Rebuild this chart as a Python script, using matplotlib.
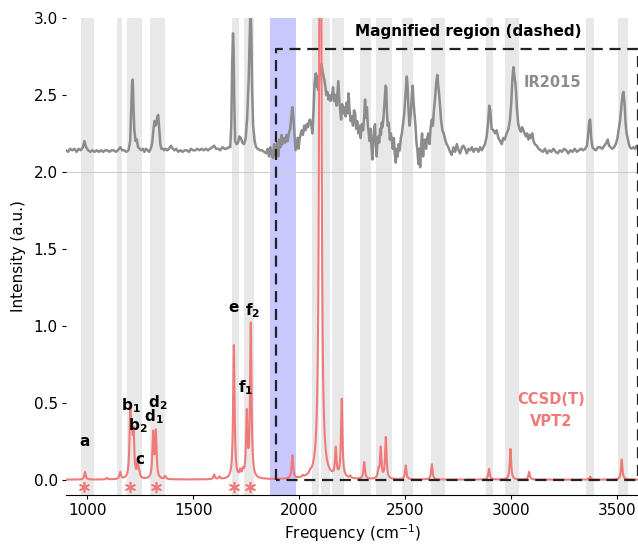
import numpy as np
import matplotlib.pyplot as plt

# experimental spectrum (IR2015), offset upwards
exp_freq = [900, 910, 920, 930, 940, 950, 960, 970, 980, 987, 995, 1005, 1015, 1025, 1035, 1045, 1055, 1065,
            1075, 1085, 1095, 1105, 1115, 1125, 1135, 1145, 1156, 1165, 1175, 1185, 1195, 1203, 1208, 1212,
            1215, 1218, 1222, 1228, 1234, 1240, 1248, 1255, 1263, 1270, 1278, 1285, 1292, 1300, 1307, 1313,
            1318, 1322, 1326, 1331, 1335, 1340, 1345, 1350, 1357, 1363, 1370, 1378, 1386, 1396, 1404, 1412,
            1420, 1430, 1440, 1450, 1460, 1470, 1480, 1490, 1500, 1510, 1520, 1530, 1540, 1550, 1560, 1570,
            1580, 1590, 1599, 1608, 1618, 1628, 1638, 1648, 1658, 1667, 1675, 1680, 1684, 1688, 1691, 1694,
            1698, 1705, 1712, 1718, 1725, 1732, 1740, 1748, 1755, 1762, 1767, 1770, 1774, 1778, 1783, 1790,
            1797, 1805, 1815, 1825, 1835, 1845, 1852, 1858, 1864, 1870, 1876, 1882, 1887, 1892, 1897, 1902,
            1907, 1912, 1917, 1922, 1928, 1934, 1940, 1946, 1952, 1958, 1963, 1968, 1973, 1978, 1983, 1988,
            1993, 1997, 2003, 2008, 2013, 2018, 2024, 2030, 2036, 2042, 2047, 2052, 2058, 2063, 2068, 2073,
            2079, 2084, 2088, 2091, 2096, 2101, 2106, 2110, 2115, 2119, 2124, 2128, 2133, 2138, 2143, 2148,
            2154, 2160, 2165, 2170, 2176, 2181, 2185, 2190, 2194, 2198, 2203, 2208, 2214, 2219, 2224, 2229,
            2233, 2238, 2243, 2249, 2254, 2259, 2264, 2269, 2274, 2280, 2285, 2290, 2296, 2302, 2307, 2311,
            2315, 2320, 2324, 2327, 2332, 2337, 2342, 2346, 2350, 2354, 2358, 2362, 2366, 2370, 2374, 2378,
            2382, 2386, 2390, 2393, 2398, 2403, 2408, 2411, 2414, 2418, 2423, 2428, 2433, 2437, 2442, 2447,
            2451, 2456, 2460, 2465, 2470, 2475, 2480, 2485, 2490, 2496, 2502, 2508, 2512, 2516, 2521, 2527,
            2532, 2536, 2540, 2544, 2549, 2553, 2558, 2563, 2567, 2571, 2576, 2580, 2585, 2589, 2594, 2599,
            2604, 2610, 2615, 2620, 2626, 2631, 2636, 2642, 2647, 2652, 2657, 2661, 2665, 2670, 2676, 2682,
            2689, 2696, 2704, 2712, 2720, 2728, 2736, 2744, 2752, 2760, 2768, 2775, 2783, 2791, 2799, 2807,
            2815, 2823, 2831, 2838, 2846, 2854, 2862, 2869, 2877, 2885, 2892, 2897, 2902, 2908, 2917, 2925,
            2932, 2940, 2948, 2956, 2963, 2970, 2979, 2988, 2995, 3001, 3006, 3011, 3016, 3020, 3023, 3028,
            3034, 3040, 3046, 3052, 3058, 3064, 3070, 3076, 3082, 3088, 3094, 3100, 3106, 3112, 3121, 3130,
            3140, 3150, 3160, 3170, 3180, 3190, 3200, 3210, 3220, 3230, 3240, 3250, 3260, 3270, 3280, 3290,
            3300, 3310, 3320, 3330, 3340, 3350, 3358, 3364, 3369, 3373, 3378, 3384, 3390, 3400, 3410, 3420,
            3430, 3440, 3450, 3456, 3462, 3470, 3478, 3486, 3494, 3502, 3508, 3514, 3520, 3526, 3530, 3535,
            3540, 3545, 3553, 3560, 3568, 3577, 3585, 3592, 3600]
exp_int = [2.14, 2.13, 2.15, 2.14, 2.15, 2.13, 2.15, 2.14, 2.16, 2.20, 2.16, 2.14, 2.13, 2.14, 2.13, 2.14, 2.13, 2.14,
           2.13, 2.14, 2.14, 2.13, 2.14, 2.14, 2.13, 2.14, 2.16, 2.14, 2.14, 2.13, 2.14, 2.20, 2.40, 2.58,
           2.60, 2.45, 2.28, 2.20, 2.21, 2.16, 2.15, 2.14, 2.15, 2.13, 2.15, 2.14, 2.13, 2.15, 2.19, 2.28,
           2.33, 2.30, 2.31, 2.36, 2.37, 2.28, 2.18, 2.15, 2.15, 2.14, 2.15, 2.14, 2.15, 2.17, 2.15, 2.14,
           2.15, 2.13, 2.14, 2.13, 2.14, 2.14, 2.13, 2.15, 2.14, 2.14, 2.15, 2.14, 2.15, 2.14, 2.15, 2.14,
           2.15, 2.16, 2.17, 2.15, 2.15, 2.14, 2.16, 2.15, 2.15, 2.16, 2.16, 2.30, 2.70, 2.90, 2.80, 2.45,
           2.20, 2.18, 2.19, 2.23, 2.22, 2.19, 2.18, 2.22, 2.35, 2.60, 2.90, 3.05, 2.95, 2.55, 2.30, 2.20,
           2.16, 2.15, 2.14, 2.14, 2.13, 2.12, 2.15, 2.10, 2.16, 2.12, 2.09, 2.18, 2.10, 2.15, 2.19, 2.10,
           2.21, 2.16, 2.24, 2.18, 2.22, 2.19, 2.24, 2.20, 2.25, 2.28, 2.36, 2.42, 2.35, 2.24, 2.14, 2.18,
           2.22, 2.15, 2.22, 2.25, 2.27, 2.24, 2.30, 2.27, 2.31, 2.29, 2.33, 2.34, 2.30, 2.25, 2.40, 2.58,
           2.64, 2.55, 2.62, 2.53, 2.62, 2.66, 2.70, 2.66, 2.62, 2.60, 2.55, 2.50, 2.52, 2.47, 2.50, 2.46,
           2.48, 2.55, 2.46, 2.50, 2.43, 2.52, 2.59, 2.45, 2.40, 2.34, 2.44, 2.38, 2.42, 2.36, 2.45, 2.38,
           2.51, 2.40, 2.33, 2.36, 2.30, 2.40, 2.38, 2.28, 2.33, 2.25, 2.30, 2.22, 2.31, 2.27, 2.36, 2.47,
           2.35, 2.42, 2.30, 2.27, 2.20, 2.28, 2.15, 2.08, 2.20, 2.28, 2.31, 2.18, 2.10, 2.22, 2.23, 2.19,
           2.28, 2.24, 2.32, 2.29, 2.35, 2.45, 2.56, 2.55, 2.40, 2.30, 2.32, 2.21, 2.25, 2.21, 2.15, 2.22,
           2.12, 2.06, 2.15, 2.10, 2.18, 2.14, 2.22, 2.25, 2.31, 2.38, 2.50, 2.62, 2.55, 2.40, 2.30, 2.38,
           2.50, 2.56, 2.45, 2.38, 2.30, 2.20, 2.14, 2.05, 2.15, 2.03, 2.18, 2.25, 2.10, 2.20, 2.21, 2.15,
           2.22, 2.25, 2.18, 2.28, 2.34, 2.30, 2.40, 2.49, 2.58, 2.63, 2.55, 2.50, 2.42, 2.33, 2.27, 2.25,
           2.21, 2.18, 2.16, 2.13, 2.11, 2.16, 2.13, 2.18, 2.14, 2.12, 2.16, 2.17, 2.15, 2.12, 2.15, 2.14,
           2.16, 2.13, 2.15, 2.15, 2.13, 2.16, 2.14, 2.16, 2.18, 2.23, 2.33, 2.43, 2.40, 2.28, 2.27, 2.25,
           2.27, 2.22, 2.20, 2.18, 2.22, 2.21, 2.25, 2.28, 2.34, 2.45, 2.60, 2.68, 2.62, 2.58, 2.53, 2.40,
           2.31, 2.28, 2.26, 2.29, 2.27, 2.25, 2.23, 2.25, 2.21, 2.24, 2.22, 2.25, 2.20, 2.18, 2.17, 2.15,
           2.14, 2.13, 2.15, 2.12, 2.14, 2.13, 2.15, 2.13, 2.12, 2.14, 2.13, 2.15, 2.14, 2.12, 2.14, 2.13,
           2.15, 2.13, 2.14, 2.15, 2.14, 2.15, 2.17, 2.25, 2.33, 2.34, 2.22, 2.16, 2.15, 2.14, 2.16, 2.16,
           2.15, 2.17, 2.19, 2.21, 2.17, 2.16, 2.15, 2.16, 2.18, 2.22, 2.28, 2.33, 2.42, 2.50, 2.52, 2.45,
           2.32, 2.25, 2.20, 2.16, 2.15, 2.16, 2.15, 2.17, 2.15]

# computed CCSD(T)/VPT2 stick spectrum
calc_freq = [990, 1093, 1156, 1203, 1211, 1219, 1238, 1246, 1311, 1324, 1368, 1599, 1624, 1692, 1722, 1735,
             1753, 1772, 1968, 2017, 2052, 2100, 2173, 2201, 2241, 2307, 2374, 2385, 2409, 2503, 2626, 2896,
             2997, 3085, 3373, 3522]
calc_int = [0.05, 0.01, 0.045, 0.40, 0.22, 0.27, 0.09, 0.03, 0.29, 0.30, 0.02, 0.03, 0.015, 0.87, 0.04, 0.04,
            0.41, 1.00, 0.15, 0.01, 0.015, 8.0, 0.18, 0.51, 0.015, 0.11, 0.05, 0.20, 0.27, 0.09, 0.10, 0.07,
            0.20, 0.05, 0.02, 0.13]

grey_bands = [(972, 1033), (1142, 1162), (1187, 1258), (1297, 1368), (1682, 1717), (1742, 1788),
              (2060, 2095), (2105, 2146), (2156, 2214), (2288, 2338), (2363, 2439), (2486, 2536),
              (2624, 2687), (2881, 2916), (2973, 3038), (3354, 3391), (3506, 3553)]
blue_band = (1864, 1983)

peak_labels = ['a', r'$\mathbf{b_1}$', r'$\mathbf{b_2}$', 'c', r'$\mathbf{d_1}$', r'$\mathbf{d_2}$',
               'e', r'$\mathbf{f_1}$', r'$\mathbf{f_2}$']
label_x = [990, 1206, 1237, 1250, 1313, 1332, 1693, 1750, 1780]
label_y = [0.25, 0.48, 0.35, 0.13, 0.41, 0.50, 1.12, 0.60, 1.10]
star_x = [987, 1203, 1324, 1693, 1769]

red = '#f07a7a'

fig = plt.figure(figsize=(6.38, 5.44), dpi=100)
ax = fig.add_axes([0.1034, 0.090, 0.897, 0.877])

for lo, hi in grey_bands:
    ax.axvspan(lo, hi, color='#e8e8e8', lw=0, zorder=0)
ax.axvspan(*blue_band, color='#c8c8ff', lw=0, zorder=0)
ax.axhline(2.0, color='#cccccc', lw=0.8, zorder=1)

ax.plot(exp_freq, exp_int, color='#8c8c8c', lw=1.8, zorder=2)

# lorentzian broadening of the sticks
x = np.linspace(900, 3600, 8000)
hwhm = 4.0
y = np.zeros_like(x)
for f0, i0 in zip(calc_freq, calc_int):
    y += i0 * hwhm**2 / ((x - f0)**2 + hwhm**2)
ax.plot(x, y, color=red, lw=1.5, zorder=3)

ax.plot(star_x, [-0.05] * len(star_x), ls='none', marker=(6, 2, 0), ms=8, mec=red, mew=1.2, zorder=3)

for lab, lx, ly in zip(peak_labels, label_x, label_y):
    ax.text(lx, ly, lab, ha='center', va='center', fontsize=11, fontweight='bold')

# magnified region box
ax.plot([1890, 1890, 3597, 3597, 1890], [0.0, 2.8, 2.8, 0.0, 0.0], color='#222222', lw=1.6,
        ls=(0, (5, 3)), zorder=4, clip_on=False)
ax.text(2797, 2.91, 'Magnified region (dashed)', ha='center', va='center', fontsize=11, fontweight='bold')
ax.text(3195, 2.58, 'IR2015', ha='center', va='center', fontsize=10.5, fontweight='bold', color='#8c8c8c')
ax.text(3190, 0.45, 'CCSD(T)\nVPT2', ha='center', va='center', fontsize=10.5, fontweight='bold', color=red,
        linespacing=1.6)

ax.set_xlim(900, 3600)
ax.set_ylim(-0.1, 3.0)
ax.set_xticks([1000, 1500, 2000, 2500, 3000, 3500])
ax.set_yticks([0.0, 0.5, 1.0, 1.5, 2.0, 2.5, 3.0])
ax.tick_params(labelsize=11, length=3, pad=3)
for s in ['top', 'right', 'left']:
    ax.spines[s].set_visible(False)
ax.set_xlabel('Frequency (cm$^{-1}$)', fontsize=11, labelpad=3)
ax.set_ylabel('Intensity (a.u.)', fontsize=11, labelpad=5)

fig.savefig('out.png', dpi=100)
